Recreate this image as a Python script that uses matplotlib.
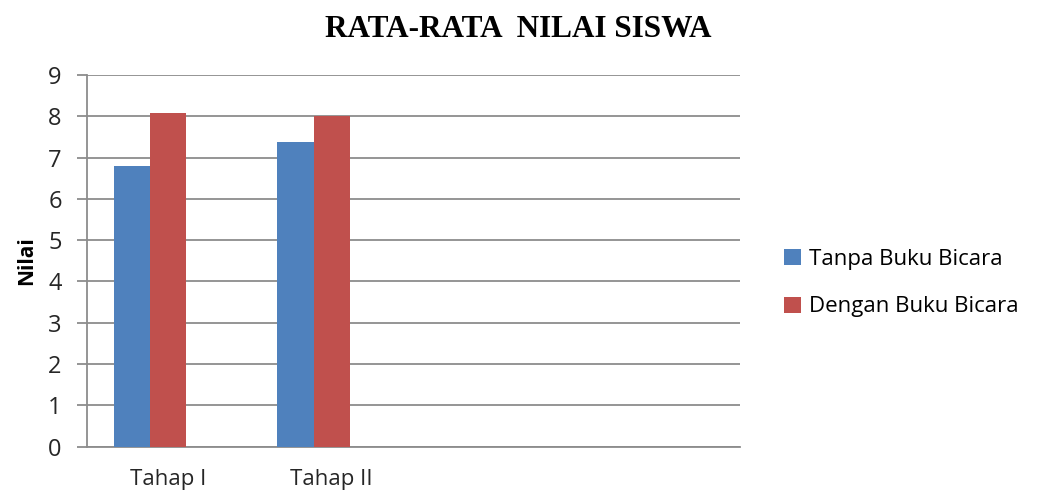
import matplotlib.pyplot as plt
import numpy as np

categories = ['Tahap I', 'Tahap II', '', '']
tanpa = [6.8, 7.37]
dengan = [8.07, 8.01]
series_names = ['Tanpa Buku Bicara', 'Dengan Buku Bicara']

COLORS = {'blue': '#4f81bd', 'red': '#c0504d', 'grid': '#8c8c8c', 'text': '#262626'}

fig = plt.figure(figsize=(10.42, 4.95), dpi=100)
ax = fig.add_axes([0.0832, 0.0976, 0.627, 0.751])

x = np.arange(len(categories))
w = 0.222
ax.bar(x[:len(tanpa)] - w, tanpa, width=w, align='center', color=COLORS['blue'],
       label=series_names[0], zorder=3)
ax.bar(x[:len(dengan)], dengan, width=w, align='center', color=COLORS['red'],
       label=series_names[1], zorder=3)

ax.set_xlim(-0.5, len(categories) - 0.5)
ax.set_ylim(0, 9)
ax.set_yticks(range(0, 10))
ax.yaxis.grid(True, color=COLORS['grid'], linewidth=1.3, zorder=0)
ax.set_axisbelow(True)

for s in ['top', 'right']:
    ax.spines[s].set_visible(False)
ax.spines['left'].set_color(COLORS['grid'])
ax.spines['bottom'].set_color(COLORS['grid'])
ax.spines['left'].set_linewidth(1.3)
ax.spines['bottom'].set_linewidth(1.3)

ax.set_xticks(x)
ax.set_xticklabels(categories, fontsize=16, family='Open Sans', color=COLORS['text'])
ax.tick_params(axis='x', length=0, pad=16)
ax.tick_params(axis='y', length=7, width=1.3, color=COLORS['grid'], labelsize=17,
               labelcolor=COLORS['text'], pad=11)
for lbl in ax.get_yticklabels():
    lbl.set_family('Open Sans')

ax.set_ylabel('Nilai', fontsize=15, fontweight='bold', family='Open Sans', labelpad=8)

fig.text(0.497, 0.94, 'RATA-RATA  NILAI SISWA', ha='center', va='center', fontsize=22.5,
         fontweight='bold', family='Liberation Serif')

ax.legend(loc='center left', bbox_to_anchor=(1.037, 0.44), frameon=False,
          prop={'family': 'Open Sans', 'size': 16}, handlelength=0.75, handleheight=0.75,
          handletextpad=0.35, labelspacing=1.2)

fig.savefig('out.png', dpi=100)
